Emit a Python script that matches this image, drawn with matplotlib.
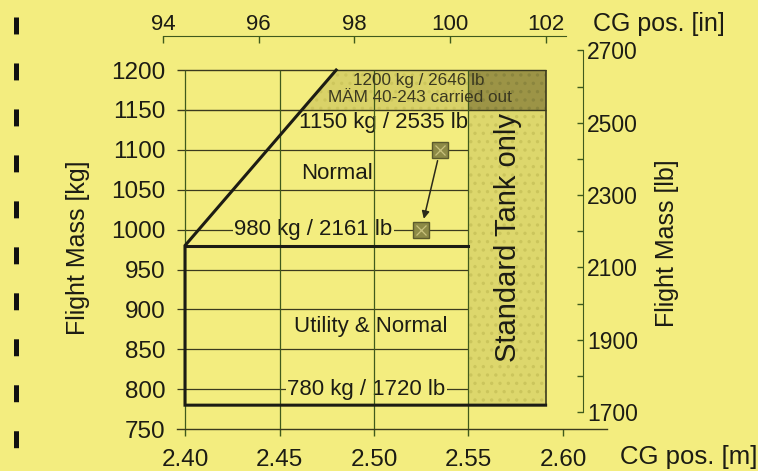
import matplotlib
matplotlib.use("Agg")
import matplotlib.pyplot as plt
from matplotlib.lines import Line2D
import numpy as np

plt.rcParams['font.family'] = ['Liberation Sans', 'DejaVu Sans']
plt.rcParams['hatch.linewidth'] = 1.2

# --- data ---
cg_ticks_m = [2.40, 2.45, 2.50, 2.55, 2.60]
cg_ticks_in = [94, 96, 98, 100, 102]
mass_ticks_kg = [750, 800, 850, 900, 950, 1000, 1050, 1100, 1150, 1200]
mass_ticks_lb = [1700, 1900, 2100, 2300, 2500, 2700]
mass_minor_lb = [1800, 2000, 2200, 2400, 2600]

# envelope outline (CG [m], mass [kg])
env_cg = [2.5908, 2.40, 2.40, 2.48]
env_kg = [780, 780, 980, 1200]
normal_min_kg = 980
mtow_kg = 1150
mam_kg = 1200
tank_cg = [2.55, 2.5908]
tank_kg = [780, 1200]

# example shift of CG
example_cg = [2.535, 2.525]
example_kg = [1100, 1000]

KG2LB = 2.20462
M2IN = 1 / 0.0254

# --- layout (pixels in a 758 x 471 picture) ---
W, H = 758, 471
BG = '#f3ed7f'
INK = '#1c1c14'
GRID = '#3b3a1e'
VGRID = '#3f5a1c'


def frac_box(x0, x1, ytop, ybot):
    return [x0 / W, 1 - ybot / H, (x1 - x0) / W, (ybot - ytop) / H]


fig = plt.figure(figsize=(W / 100, H / 100), dpi=100, facecolor=BG)

ax_left_px, ax_right_px = 176.5, 607.4
ax_top_px, ax_bot_px = 46.1, 429.1
ax = fig.add_axes(frac_box(ax_left_px, ax_right_px, ax_top_px, ax_bot_px))
ax.set_facecolor(BG)
ax.set_xlim(2.3955, 2.6235)
ax.set_ylim(750, 1230)
xlim = ax.get_xlim()

for s in ['left', 'right', 'top']:
    ax.spines[s].set_visible(False)
ax.spines['bottom'].set_color(GRID)
ax.spines['bottom'].set_linewidth(1.0)

ax.set_xticks(cg_ticks_m, labels=[f"{v:.2f}" for v in cg_ticks_m])
ax.set_yticks(mass_ticks_kg, labels=[str(v) for v in mass_ticks_kg])
ax.tick_params(axis='x', direction='out', length=5, width=1.0, color=VGRID,
               labelsize=17.5, pad=9, labelcolor=INK)
ax.tick_params(axis='y', length=0, pad=8, labelsize=17.5, labelcolor=INK)

# shaded regions
diag_cg_1150 = np.interp(mtow_kg, env_kg[2:], env_cg[2:])
ax.fill([diag_cg_1150, env_cg[3], tank_cg[0], tank_cg[0]],
        [mtow_kg, mam_kg, mam_kg, mtow_kg], facecolor='#d9d268',
        edgecolor='#cdc65c', hatch='..', lw=0, zorder=0.5)
ax.fill([tank_cg[0], tank_cg[1], tank_cg[1], tank_cg[0]],
        [tank_kg[0], tank_kg[0], mtow_kg, mtow_kg], facecolor='#ddd76c',
        edgecolor='#cbc55c', hatch='..', lw=0, zorder=0.5)
ax.fill([tank_cg[0], tank_cg[1], tank_cg[1], tank_cg[0]],
        [mtow_kg, mtow_kg, mam_kg, mam_kg], facecolor='#9c9446',
        edgecolor='#8a853e', hatch='..', lw=0, zorder=0.5)

# grid
ax.hlines(mass_ticks_kg[1:-2], xlim[0], tank_cg[0], color=GRID, lw=0.9,
          zorder=1)
ax.hlines([mtow_kg, mam_kg], xlim[0], tank_cg[1], color=GRID, lw=1.0,
          zorder=1)
ax.vlines(cg_ticks_m[:4], mass_ticks_kg[0], mass_ticks_kg[-1], color=VGRID,
          lw=0.9, zorder=3)
ax.vlines(tank_cg[1], tank_kg[0], tank_kg[1], color=GRID, lw=1.2, zorder=3)

# envelope
ax.plot(env_cg, env_kg, color=INK, lw=2.2, zorder=4, solid_joinstyle='miter')
ax.plot([env_cg[1], tank_cg[0]], [normal_min_kg, normal_min_kg], color=INK,
        lw=2.2, zorder=4)

# example markers and arrow
ax.annotate('', xy=(example_cg[1], example_kg[1]),
            xytext=(example_cg[0], example_kg[0]),
            arrowprops=dict(arrowstyle='-|>', color='#2b2a1a', lw=1.1,
                            shrinkA=8, shrinkB=8, mutation_scale=11),
            zorder=5)
ax.plot(example_cg, example_kg, 's', ms=12, mfc='#8d8a46', mec='#5a592c',
        mew=1.0, zorder=6, ls='none')
ax.plot(example_cg, example_kg, 'x', ms=7, mec='#c8c27c', mew=0.9,
        zorder=7, ls='none')

# labels inside the chart
tb = dict(facecolor=BG, edgecolor='none', pad=1.0)
ax.text(2.468, 1000, '980 kg / 2161 lb', fontsize=16, color=INK,
        ha='center', va='center', bbox=tb, zorder=2)
ax.text(2.496, 800, '780 kg / 1720 lb', fontsize=16, color=INK,
        ha='center', va='center', bbox=tb, zorder=2)
ax.text(2.5048, 1134, '1150 kg / 2535 lb', fontsize=16, color=INK,
        ha='center', va='center', zorder=2)
ax.text(2.4804, 1070, 'Normal', fontsize=16, color=INK,
        ha='center', va='center', zorder=2)
ax.text(2.4984, 878, 'Utility & Normal', fontsize=16, color=INK,
        ha='center', va='center', zorder=2)
ax.text(2.5238, 1187, '1200 kg / 2646 lb', fontsize=12.3, color='#3a3820',
        ha='center', va='center', zorder=5)
ax.text(2.5243, 1165, 'MÄM 40-243 carried out', fontsize=12.3,
        color='#3a3820', ha='center', va='center', zorder=5)
ax.text(2.5709, 990, 'Standard Tank only', fontsize=21, color=INK,
        rotation=90, ha='center', va='center', zorder=5)

ax.set_ylabel('Flight Mass [kg]', fontsize=18, color=INK)
ax.yaxis.set_label_coords((78 - ax_left_px) / (ax_right_px - ax_left_px),
                          (ax_bot_px - 248) / (ax_bot_px - ax_top_px))
ax.yaxis.label.set_va('center')

# right axis in lb
ax_lb = ax.twinx()
ax_lb.set_ylim(ax.get_ylim()[0] * KG2LB, ax.get_ylim()[1] * KG2LB)
for s in ['left', 'top', 'bottom']:
    ax_lb.spines[s].set_visible(False)
ax_lb.spines['right'].set_position(
    ('axes', (583 - ax_left_px) / (ax_right_px - ax_left_px)))
ax_lb.spines['right'].set_bounds(mass_ticks_lb[0], mass_ticks_lb[-1])
ax_lb.spines['right'].set_color(VGRID)
ax_lb.set_yticks(mass_ticks_lb, labels=[str(v) for v in mass_ticks_lb])
ax_lb.set_yticks(mass_minor_lb, minor=True)
ax_lb.tick_params(axis='y', which='both', direction='in', length=4.5,
                  width=1.0, color=VGRID, labelsize=16.5, pad=3,
                  labelcolor=INK)
ax_lb.set_ylabel('Flight Mass [lb]', fontsize=18, color=INK)
ax_lb.yaxis.set_label_coords((667 - ax_left_px) / (ax_right_px - ax_left_px),
                             (ax_bot_px - 243) / (ax_bot_px - ax_top_px))
ax_lb.yaxis.label.set_va('center')

# top axis in inches
in_left_px, in_right_px = 163, 566


def m_at(px):
    return xlim[0] + (px - ax_left_px) / (ax_right_px - ax_left_px) * (
        xlim[1] - xlim[0])


ax_in = fig.add_axes(frac_box(in_left_px, in_right_px, 36, 40))
ax_in.set_facecolor('none')
ax_in.set_xlim(m_at(in_left_px) * M2IN, m_at(in_right_px) * M2IN)
ax_in.set_yticks([])
for s in ['left', 'right', 'bottom']:
    ax_in.spines[s].set_visible(False)
ax_in.spines['top'].set_color(VGRID)
ax_in.xaxis.tick_top()
ax_in.set_xticks(cg_ticks_in, labels=[str(v) for v in cg_ticks_in])
ax_in.tick_params(axis='x', direction='in', length=5, width=1.0,
                  color=VGRID, labelsize=16, pad=0.5, labelcolor=INK)

fig.text(593 / W, 1 - 24 / H, 'CG pos. [in]', fontsize=18, color=INK,
         ha='left', va='center')
fig.text(620 / W, 1 - 457 / H, 'CG pos. [m]', fontsize=18.5, color=INK,
         ha='left', va='center')

# punched-hole marks along the left edge of the scan
lw_bar = 3.6
fig.add_artist(Line2D([16 / W, 16 / W], [1 - 17 / H, 0],
                      transform=fig.transFigure, color='#111111', lw=lw_bar,
                      solid_capstyle='butt', dash_capstyle='butt',
                      dashes=(12.2 / lw_bar, 20.9 / lw_bar)))

fig.savefig('out.png', dpi=100, facecolor=BG)
